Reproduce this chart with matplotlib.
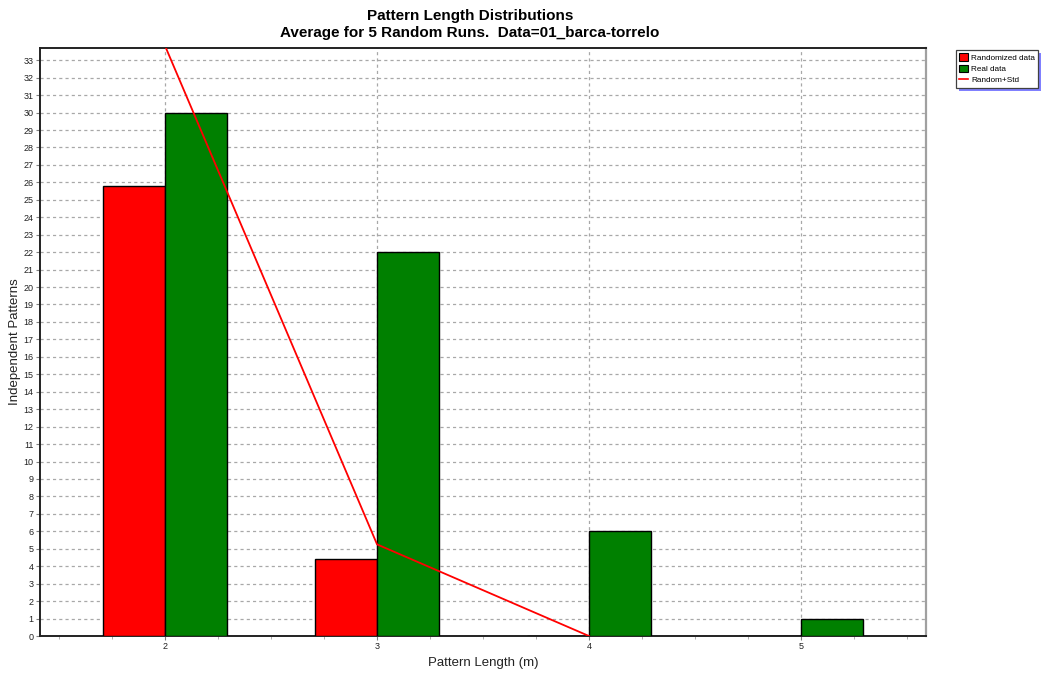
import matplotlib
matplotlib.use("Agg")
import matplotlib.pyplot as plt
from matplotlib.patches import Patch, Rectangle
from matplotlib.lines import Line2D
from matplotlib.ticker import MultipleLocator

# Pattern lengths and average counts
lengths = [2, 3, 4, 5]
randomized = [25.8, 4.4, 0.0, 0.0]
real = [30, 22, 6, 1]
# Random mean + standard deviation (only defined where random runs produced patterns)
std_lengths = [2, 3, 4]
random_std = [33.8, 5.25, 0.0]

title_lines = ["Pattern Length Distributions",
               "Average for 5 Random Runs.  Data=01_barca-torrelo"]

plt.rcParams['font.family'] = ['Liberation Sans', 'DejaVu Sans']

fig = plt.figure(figsize=(10.41, 6.75), dpi=100)
ax = fig.add_axes([40 / 1041, 1 - 636 / 675, (926 - 40) / 1041, (636 - 48) / 675])

w = 0.292
ax.bar([x - w / 2 for x in lengths], randomized, width=w, color='#ff0000',
       edgecolor='black', linewidth=1.0, zorder=3)
ax.bar([x + w / 2 for x in lengths], real, width=w, color='#008000',
       edgecolor='black', linewidth=1.0, zorder=3)
ax.plot(std_lengths, random_std, color='#ff0000', linewidth=1.3, zorder=4)

ax.set_xlim(2 - 0.591, 5 + 0.591)
ax.set_ylim(0, 33.7)
ax.set_xticks(lengths)
ax.xaxis.set_minor_locator(MultipleLocator(0.25))
ax.set_yticks(range(0, 34))

ax.grid(True, which='major', color='#a8a8a8', linestyle=(0, (2.5, 2.5)),
        linewidth=0.9, zorder=1)
ax.tick_params(axis='both', which='major', labelsize=6.5, length=3,
               color='#808080', pad=1.5, labelcolor='#222222')
ax.tick_params(axis='x', which='minor', length=2, color='#a0a0a0')

for side in ['left', 'top', 'bottom']:
    ax.spines[side].set_color('#222222')
    ax.spines[side].set_linewidth(1.4)
ax.spines['right'].set_color('#a0a0a0')
ax.spines['right'].set_linewidth(1.6)

ax.set_xlabel("Pattern Length (m)", fontsize=9.5, labelpad=4, color='#222222')
ax.set_ylabel("Independent Patterns", fontsize=9.5, labelpad=2, color='#222222')

fig.text(470 / 1041, 1 - 16 / 675, title_lines[0], ha='center', va='center',
         fontsize=11, fontweight='bold')
fig.text(470 / 1041, 1 - 33 / 675, title_lines[1], ha='center', va='center',
         fontsize=11, fontweight='bold')

handles = [Patch(facecolor='#ff0000', edgecolor='black', linewidth=0.8),
           Patch(facecolor='#008000', edgecolor='black', linewidth=0.8),
           Line2D([], [], color='#ff0000', linewidth=1.2)]
labels = ["Randomized data", "Real data", "Random+Std"]
leg = fig.legend(handles, labels, loc='upper left',
                 bbox_to_anchor=(956 / 1041, 1 - 50 / 675),
                 fontsize=5.9, frameon=True, fancybox=False, framealpha=1.0,
                 handlelength=1.1, handleheight=1.0, handletextpad=0.35,
                 borderpad=0.4, labelspacing=0.35, borderaxespad=0)
leg.get_frame().set_edgecolor('#404040')
leg.get_frame().set_linewidth(0.9)
leg.set_zorder(6)

# drop shadow behind the legend box
fig.canvas.draw()
bb = leg.get_window_extent()
off = 3
fig.patches.append(Rectangle(((bb.x0 + off) / fig.bbox.width, (bb.y0 - off) / fig.bbox.height),
                             bb.width / fig.bbox.width, bb.height / fig.bbox.height,
                             transform=fig.transFigure, facecolor='#8080ff',
                             edgecolor='none', zorder=5))

fig.savefig("out.png", dpi=100)
